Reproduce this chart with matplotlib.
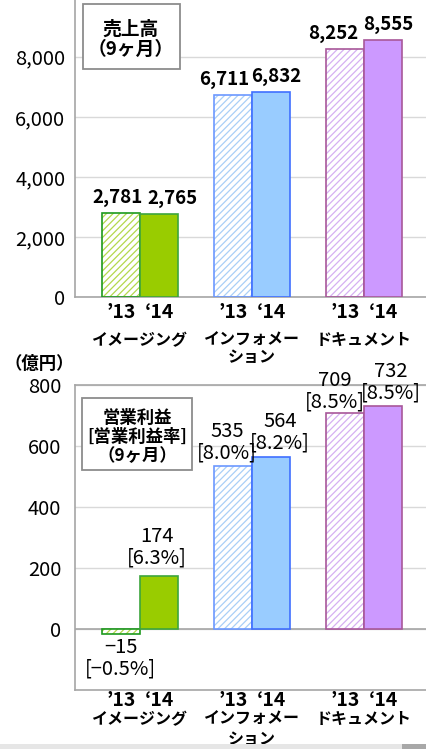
"""
Segment sales and operating profit (9 months), '13 vs '14, two stacked bar panels.
"""

import matplotlib

matplotlib.use("Agg")
import matplotlib.pyplot as plt
from matplotlib.patches import Rectangle

plt.rcParams["font.family"] = ["Noto Sans CJK JP", "DejaVu Sans"]
plt.rcParams["hatch.linewidth"] = 0.9

# data
segments = ["イメージング", "インフォメー\nション", "ドキュメント"]
year_labels = ["’13", "‘14"]
sales_13 = [2781, 6711, 8252]
sales_14 = [2765, 6832, 8555]
profit_13 = [-15, 535, 709]
profit_14 = [174, 564, 732]
margin_13 = [-0.5, 8.0, 8.5]
margin_14 = [6.3, 8.2, 8.5]

# styles
fill_14 = ["#99CC00", "#99CCFF", "#CC99FF"]
hatch_13 = ["#B4D84C", "#A9CFF7", "#D6B0F2"]
edge_13 = ["#1E9A1E", "#6C98FF", "#A8589A"]
edge_14 = ["#3DA53D", "#3F6FFF", "#A8589A"]
grid_c = "#D9D9D9"
spine_c = "#A6A6A6"

W, H = 427, 749
fig = plt.figure(figsize=(W / 100, H / 100), dpi=100)


def fig_rect(x0, y0, x1, y1):
    # pixel box (top-left origin) -> figure fraction [l, b, w, h]
    return [x0 / W, 1 - y1 / H, (x1 - x0) / W, (y1 - y0) / H]


ax1 = fig.add_axes(fig_rect(75, 0, 427, 297))
ax2 = fig.add_axes(fig_rect(75, 385, 427, 690))

bw = 0.34
xs = list(range(len(segments)))


def draw_bars(ax, v13, v14):
    x13 = [x - bw / 2 for x in xs]
    x14 = [x + bw / 2 for x in xs]
    for i in xs:
        ax.bar(x13[i], v13[i], bw, color="white", edgecolor=hatch_13[i],
               hatch="/////", linewidth=0, zorder=2)
        ax.bar(x13[i], v13[i], bw, fill=False, edgecolor=edge_13[i],
               linewidth=1.2, zorder=3)
        ax.bar(x14[i], v14[i], bw, color=fill_14[i], edgecolor=edge_14[i],
               linewidth=1.2, zorder=3)
    return x13, x14


def style_axis(ax, ylim, yticks, year_dy, name_dy, line_gap):
    ax.set_xlim(-0.58, 2.5625)
    ax.set_ylim(*ylim)
    ax.set_yticks(yticks)
    ax.set_yticklabels([f"{t:,}" for t in yticks], fontsize=14.5)
    ax.yaxis.grid(True, color=grid_c, linewidth=1)
    ax.set_axisbelow(True)
    ax.tick_params(axis="y", length=0, pad=7)
    ax.set_xticks([])
    ax.spines["right"].set_visible(False)
    for s in ["left", "bottom", "top"]:
        ax.spines[s].set_color(spine_c)
        ax.spines[s].set_linewidth(1.2)
    tr = ax.get_xaxis_transform()
    for i in xs:
        for j, off in enumerate([-bw / 2, bw / 2]):
            ax.annotate(year_labels[j], (i + off, 0), xycoords=tr,
                        xytext=(0, year_dy), textcoords="offset pixels",
                        ha="center", va="center", fontsize=14, fontweight="bold")
        for k, line in enumerate(segments[i].split("\n")):
            ax.annotate(line, (i, 0), xycoords=tr,
                        xytext=(0, name_dy - k * line_gap), textcoords="offset pixels",
                        ha="center", va="center", fontsize=11.5, fontweight="bold")


# top panel: sales
x13, x14 = draw_bars(ax1, sales_13, sales_14)
style_axis(ax1, (0, 9890), [0, 2000, 4000, 6000, 8000], -15, -43, 17)
ax1.spines["top"].set_visible(False)
sales_dx = [(-3, 13), (-9, 5), (-12, 5)]
for i in xs:
    for x, v, dx in [(x13[i], sales_13[i], sales_dx[i][0]), (x14[i], sales_14[i], sales_dx[i][1])]:
        ax1.annotate(f"{v:,}", (x, v), xytext=(dx, 6), textcoords="offset pixels",
                     ha="center", va="bottom", fontsize=13.5, fontweight="bold")

# bottom panel: operating profit
x13, x14 = draw_bars(ax2, profit_13, profit_14)
style_axis(ax2, (-200, 800), [0, 200, 400, 600, 800], -11, -29, 20)
ax2.tick_params(axis="y", pad=10)
ax2.axhline(0, color=spine_c, linewidth=1.2, zorder=1)
profit_dx = [(0, -2), (-6, 9), (-10, 8)]
profit_dy = [(-3, 7), (2, 3), (0, 2)]
for i in xs:
    for x, v, m, dx, dy in [(x13[i], profit_13[i], margin_13[i], profit_dx[i][0], profit_dy[i][0]),
                            (x14[i], profit_14[i], margin_14[i], profit_dx[i][1], profit_dy[i][1])]:
        label = f"{v}\n[{m:.1f}%]".replace("-", "−")
        ax2.annotate(label, (x, v), xytext=(dx, dy), textcoords="offset pixels",
                     ha="center", va="bottom" if v >= 0 else "top",
                     fontsize=14.5, linespacing=1.05)

# title boxes
for (x0, y0, x1, y1) in [(83, 4, 180, 69), (82, 398, 192, 470)]:
    l, b, w, h = fig_rect(x0, y0, x1, y1)
    fig.add_artist(Rectangle((l, b), w, h, transform=fig.transFigure,
                             facecolor="white", edgecolor="#8C8C8C", linewidth=1.3, zorder=5))
fig.text(131 / W, 1 - 39 / H, "売上高\n（9ヶ月）", ha="center", va="center",
         fontsize=13.5, fontweight="bold", linespacing=1.1, zorder=6)
fig.text(137 / W, 1 - 437 / H, "営業利益\n[営業利益率]\n（9ヶ月）", ha="center", va="center",
         fontsize=12.5, fontweight="bold", linespacing=1.1, zorder=6)
fig.text(5 / W, 1 - 364 / H, "（億円）", ha="left", va="center",
         fontsize=12.5, fontweight="bold")

# bottom strip of the screenshot
fig.add_artist(Rectangle((0, 0), 1, 5 / H, transform=fig.transFigure,
                         facecolor="#E6E6E6", edgecolor="none"))
fig.add_artist(Rectangle((402 / W, 0), 25 / W, 5 / H, transform=fig.transFigure,
                         facecolor="#A8A8A8", edgecolor="none"))

fig.savefig("out.png", dpi=100)
